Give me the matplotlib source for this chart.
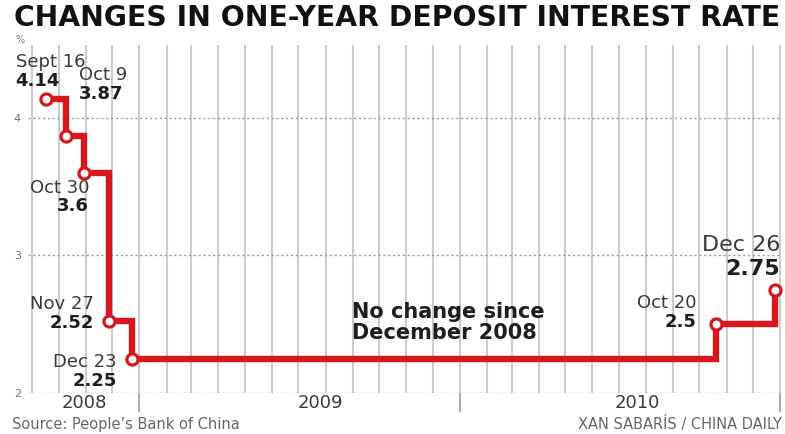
import pandas as pd
import matplotlib.pyplot as plt
import matplotlib.dates as mdates
import matplotlib.transforms as mtransforms

# One-year deposit rate changes (People's Bank of China)
change_dates = ['2008-09-16', '2008-10-09', '2008-10-30', '2008-11-27',
                '2008-12-23', '2010-10-20', '2010-12-26']
rates = [4.14, 3.87, 3.60, 2.52, 2.25, 2.50, 2.75]
date_labels = ['Sept 16', 'Oct 9', 'Oct 30', 'Nov 27', 'Dec 23', 'Oct 20', 'Dec 26']
rate_labels = ['4.14', '3.87', '3.6', '2.52', '2.25', '2.5', '2.75']
years = ['2008', '2009', '2010']
y_ticks = [2, 3, 4]

# label placement: (dx, dy date, dy value, ha, fontsize) in pixels
label_style = [
    (-30, 37, 18, 'left', 13),
    (13, 61, 42, 'left', 13),
    (5, -15, -33, 'right', 13),
    (-15, 17, -2, 'right', 13),
    (-15, -3, -22, 'right', 13),
    (-20, 21, 2, 'right', 13),
    (5, 45, 21, 'right', 16),
]
year_pos = ['2008-10-30', '2009-07-26', '2010-07-22']

RED = '#d7161d'
GRID = '#cccccc'
TXT = '#3a3a3a'
DARK = '#1e1e1e'

dates = pd.to_datetime(change_dates)

fig = plt.figure(figsize=(7.85, 4.34), dpi=100)
ax = fig.add_axes([28 / 785, 41 / 434, (782 - 28) / 785, (393 - 45) / 434])

ax.set_xlim(pd.Timestamp('2008-08-27'), pd.Timestamp('2011-01-03'))
ax.set_ylim(2, 4.53)

for s in ax.spines.values():
    s.set_visible(False)

# monthly vertical grid, year separators as long ticks below
ax.xaxis.set_major_locator(mdates.YearLocator())
ax.xaxis.set_minor_locator(mdates.MonthLocator())
ax.xaxis.set_major_formatter(plt.NullFormatter())
ax.xaxis.grid(True, which='both', color=GRID, lw=1.5)
ax.tick_params(axis='x', which='major', direction='out', length=14,
               width=1.2, color='#9a9a9a')
ax.tick_params(axis='x', which='minor', length=0)

ax.set_yticks(y_ticks)
ax.set_yticklabels([str(t) for t in y_ticks])
ax.yaxis.grid(True, color='#9a9a9a', lw=1.0, linestyle=(0, (1.5, 2)))
ax.tick_params(axis='y', length=0, pad=5, labelsize=8, labelcolor='#777777')
ax.set_axisbelow(True)

ax.plot(dates, rates, drawstyle='steps-post', color=RED, lw=4.6,
        solid_joinstyle='miter', zorder=3, clip_on=False)
ax.plot(dates, rates, 'o', ms=8, mfc='white', mec=RED, mew=2.3,
        zorder=4, clip_on=False)

for d, r, dl, rl, (dx, dyd, dyv, ha, fs) in zip(dates, rates, date_labels,
                                                rate_labels, label_style):
    ax.annotate(dl, xy=(d, r), xytext=(dx, dyd), textcoords='offset pixels',
                ha=ha, va='center', fontsize=fs, color=TXT)
    ax.annotate(rl, xy=(d, r), xytext=(dx, dyv), textcoords='offset pixels',
                ha=ha, va='center', fontsize=fs, color=DARK, weight='bold')

ax.text(pd.Timestamp('2009-08-31'), 2.515, 'No change since\nDecember 2008',
        fontsize=15, weight='bold', color=DARK, ha='left', va='center',
        linespacing=1.05)

# year labels in the band under the plot
trans = mtransforms.blended_transform_factory(ax.transData, ax.transAxes)
for y, p in zip(years, year_pos):
    ax.text(pd.Timestamp(p), -0.03, y, transform=trans, ha='center',
            va='center', fontsize=13, color=TXT)

fig.text(20 / 785, 1 - 40 / 434, '%', fontsize=7, color='#777777',
         ha='center', va='center')
fig.text(14 / 785, 1 - 18 / 434, 'CHANGES IN ONE-YEAR DEPOSIT INTEREST RATE',
         fontsize=20.3, weight='bold', color='#111111', ha='left', va='center')
fig.text(12 / 785, 1 - 424 / 434, "Source: People\u2019s Bank of China",
         fontsize=10.5, color='#666666', ha='left', va='center')
fig.text(782 / 785, 1 - 424 / 434, 'XAN SABAR\u00cdS / CHINA DAILY',
         fontsize=10.5, color='#666666', ha='right', va='center')

fig.savefig('out.png', dpi=100)
